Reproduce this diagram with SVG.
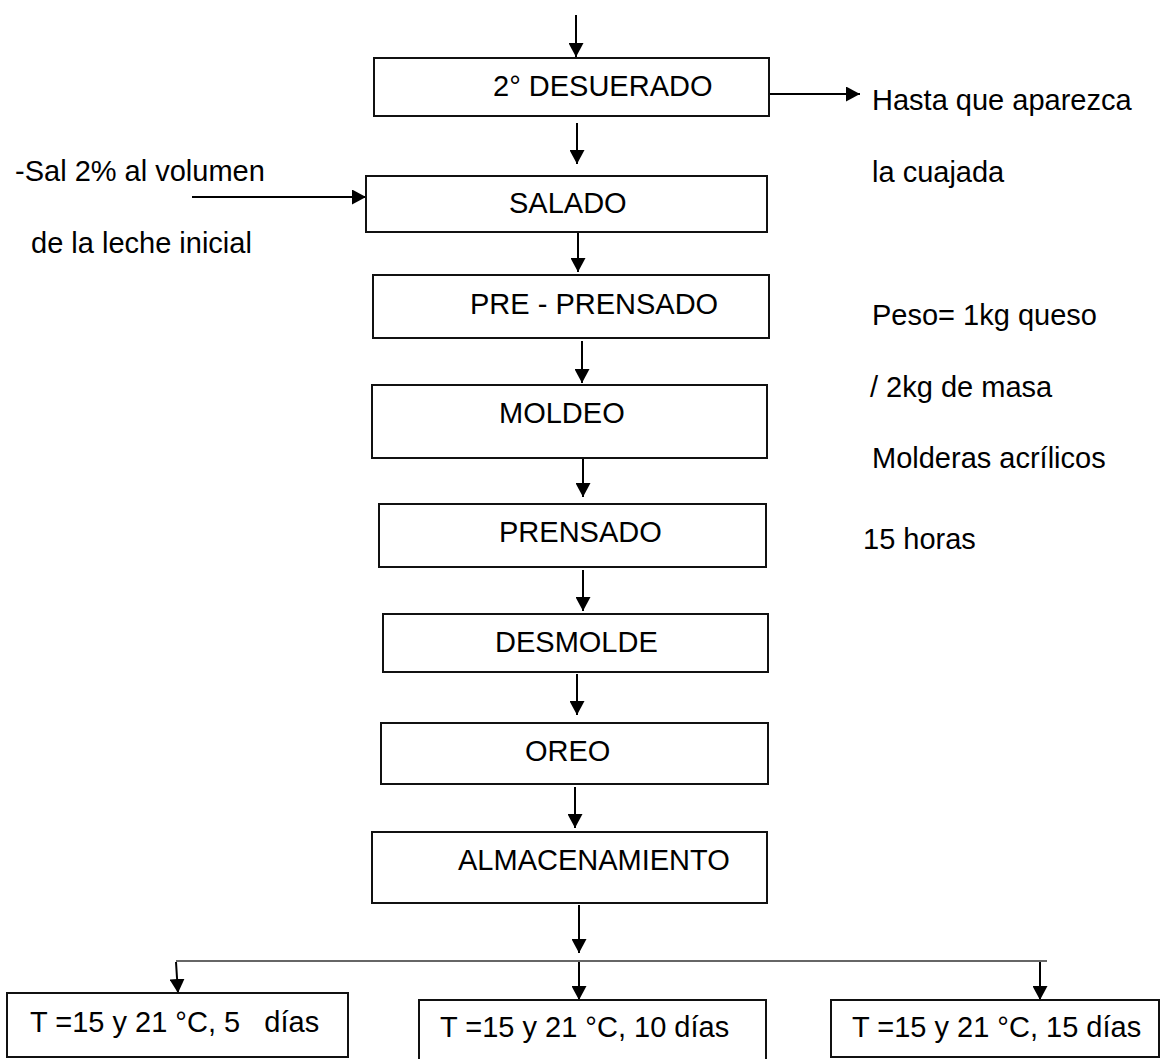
<svg xmlns="http://www.w3.org/2000/svg" width="1162" height="1059" viewBox="0 0 1162 1059">
<style>
text{font-family:"Liberation Sans",Arial,sans-serif;font-size:29px;fill:#000;white-space:pre}
.box{fill:#fff;stroke:#111;stroke-width:2}
.ar{stroke:#000;stroke-width:2;fill:none;marker-end:url(#ah)}
.thin{stroke:#333;stroke-width:1.5;fill:none}
</style>
<defs>
<marker id="ah" markerUnits="userSpaceOnUse" markerWidth="15" markerHeight="15" refX="14" refY="7.5" orient="auto">
<path d="M0,0 L14,7.5 L0,15 z" fill="#000"/>
</marker>
</defs>
<rect width="1162" height="1059" fill="#fff"/>
<g id="connectors">
<line class="ar" x1="576" y1="15" x2="576" y2="57"/>
<line class="ar" x1="577" y1="123" x2="577" y2="164"/>
<line class="ar" x1="578" y1="233" x2="578" y2="272"/>
<line class="ar" x1="582" y1="341" x2="582" y2="383"/>
<line class="ar" x1="583" y1="459" x2="583" y2="497"/>
<line class="ar" x1="583" y1="570" x2="583" y2="611"/>
<line class="ar" x1="577" y1="674" x2="577" y2="715"/>
<line class="ar" x1="575" y1="787" x2="575" y2="828"/>
<line class="ar" x1="579" y1="905" x2="579" y2="953"/>
<line class="thin" x1="176" y1="961" x2="1047" y2="961"/>
<line class="ar" x1="176" y1="962" x2="178" y2="993"/>
<line class="ar" x1="579" y1="962" x2="579" y2="1000"/>
<line class="ar" x1="1040" y1="962" x2="1040" y2="1000"/>
<line class="ar" x1="192" y1="197" x2="366" y2="197"/>
<line class="ar" x1="769" y1="94" x2="860" y2="94"/>
</g>
<g id="n-desuerado"><rect class="box" x="374" y="58" width="395" height="58"/><text x="493" y="96">2° DESUERADO</text></g>
<g id="n-salado"><rect class="box" x="366" y="176" width="401" height="56"/><text x="509" y="213">SALADO</text></g>
<g id="n-preprensado"><rect class="box" x="373" y="275" width="396" height="63"/><text x="470" y="314">PRE - PRENSADO</text></g>
<g id="n-moldeo"><rect class="box" x="372" y="385" width="395" height="73"/><text x="499" y="423">MOLDEO</text></g>
<g id="n-prensado"><rect class="box" x="379" y="504" width="387" height="63"/><text x="499" y="542">PRENSADO</text></g>
<g id="n-desmolde"><rect class="box" x="383" y="614" width="385" height="58"/><text x="495" y="652">DESMOLDE</text></g>
<g id="n-oreo"><rect class="box" x="381" y="723" width="387" height="61"/><text x="525" y="761">OREO</text></g>
<g id="n-almacenamiento"><rect class="box" x="372" y="832" width="395" height="71"/><text x="458" y="870">ALMACENAMIENTO</text></g>
<g id="n-5dias"><rect class="box" x="7" y="993" width="341" height="64"/><text x="30" y="1032">T =15 y 21 °C, 5   días</text></g>
<g id="n-10dias"><rect class="box" x="419" y="1000" width="347" height="70"/><text x="440" y="1037">T =15 y 21 °C, 10 días</text></g>
<g id="n-15dias"><rect class="box" x="831" y="1000" width="328" height="57"/><text x="852" y="1037">T =15 y 21 °C, 15 días</text></g>
<g id="notes">
<text x="872" y="110">Hasta que aparezca</text>
<text x="872" y="182">la cuajada</text>
<text x="15" y="181">-Sal 2% al volumen</text>
<text x="31" y="253">de la leche inicial</text>
<text x="872" y="325">Peso= 1kg queso</text>
<text x="870" y="397">/ 2kg de masa</text>
<text x="872" y="468">Molderas acrílicos</text>
<text x="863" y="549">15 horas</text>
</g>
</svg>
